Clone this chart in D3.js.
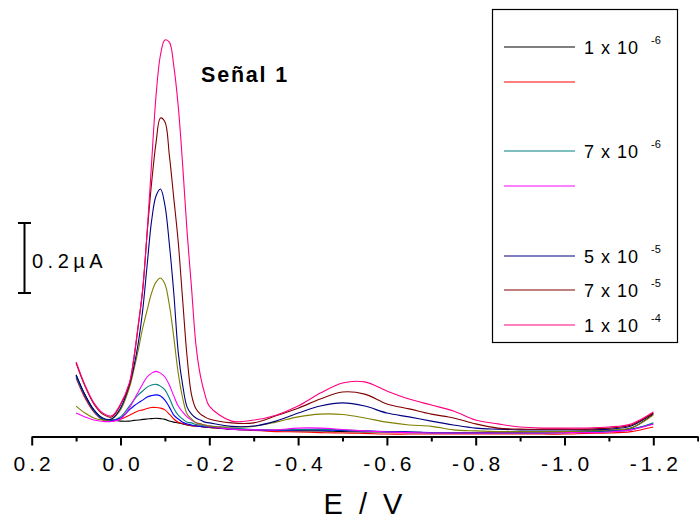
<!DOCTYPE html>
<html><head><meta charset="utf-8">
<script src="https://cdn.jsdelivr.net/npm/d3@7"></script>
<style>body{margin:0;background:#fff}svg{display:block}text{font-family:Arial,"Liberation Sans",sans-serif}</style>
</head><body><svg id="c" width="699" height="521"></svg>
<script>
// Potential (V)
const potential = [0.10,0.08,0.06,0.04,0.02,0.00,-0.02,-0.03,-0.04,-0.05,-0.06,-0.07,-0.08,-0.09,-0.10,-0.11,-0.12,-0.13,-0.14,-0.15,-0.16,-0.17,-0.18,-0.19,-0.20,
  -0.25,-0.30,-0.35,-0.40,-0.45,-0.50,-0.55,-0.60,-0.65,-0.70,-0.75,-0.80,-0.85,-0.90,-0.95,-1.00,-1.05,-1.10,-1.15,-1.20];
// Current (µA) per concentration
const cBlack = [0.186,0.129,0.086,0.061,0.057,0.054,0.054,0.056,0.057,0.059,0.060,0.061,0.062,0.061,0.059,0.054,0.051,0.049,0.046,0.043,0.041,0.040,0.039,0.037,0.036,
  0.031,0.029,0.027,0.026,0.026,0.024,0.023,0.023,0.023,0.021,0.021,0.021,0.021,0.021,0.021,0.023,0.023,0.026,0.034,0.074];
const cRed = [0.177,0.120,0.080,0.057,0.054,0.059,0.071,0.077,0.083,0.086,0.090,0.093,0.093,0.091,0.086,0.074,0.060,0.051,0.047,0.044,0.041,0.040,0.039,0.037,0.036,
  0.031,0.027,0.024,0.023,0.021,0.020,0.019,0.017,0.017,0.017,0.017,0.017,0.017,0.017,0.017,0.017,0.019,0.020,0.024,0.037];
const cBlue = [0.183,0.126,0.083,0.059,0.056,0.063,0.086,0.097,0.106,0.114,0.123,0.127,0.129,0.126,0.114,0.094,0.071,0.060,0.051,0.046,0.043,0.040,0.039,0.037,0.037,
  0.031,0.029,0.027,0.029,0.029,0.027,0.026,0.024,0.023,0.021,0.020,0.020,0.020,0.020,0.020,0.021,0.023,0.026,0.031,0.046];
const cTeal = [0.180,0.126,0.083,0.060,0.057,0.066,0.097,0.114,0.129,0.140,0.151,0.157,0.159,0.154,0.143,0.120,0.091,0.071,0.060,0.051,0.049,0.044,0.043,0.040,0.040,
  0.034,0.030,0.029,0.030,0.031,0.029,0.026,0.023,0.021,0.020,0.020,0.020,0.020,0.020,0.021,0.021,0.023,0.024,0.029,0.049];
const cMagenta = [0.077,0.066,0.057,0.053,0.053,0.060,0.091,0.114,0.137,0.160,0.180,0.191,0.196,0.191,0.180,0.157,0.126,0.097,0.080,0.066,0.057,0.049,0.046,0.043,0.040,
  0.031,0.029,0.029,0.034,0.034,0.030,0.026,0.023,0.021,0.020,0.020,0.020,0.020,0.020,0.020,0.021,0.021,0.023,0.029,0.046];
const cOlive = [0.097,0.077,0.063,0.057,0.060,0.086,0.149,0.200,0.257,0.320,0.371,0.420,0.451,0.463,0.446,0.386,0.294,0.191,0.120,0.074,0.060,0.049,0.046,0.043,0.040,
  0.037,0.039,0.051,0.066,0.074,0.073,0.063,0.051,0.043,0.039,0.029,0.026,0.024,0.024,0.024,0.024,0.026,0.029,0.034,0.071];
const cNavy = [0.186,0.129,0.086,0.063,0.060,0.091,0.157,0.209,0.277,0.371,0.500,0.626,0.697,0.717,0.671,0.560,0.420,0.251,0.157,0.094,0.074,0.063,0.057,0.051,0.049,
  0.039,0.040,0.054,0.077,0.097,0.106,0.097,0.077,0.066,0.054,0.043,0.034,0.031,0.029,0.029,0.029,0.029,0.031,0.040,0.077];
const cBrown = [0.220,0.154,0.103,0.074,0.066,0.100,0.160,0.231,0.326,0.429,0.591,0.734,0.849,0.920,0.909,0.814,0.691,0.566,0.400,0.237,0.129,0.089,0.074,0.066,0.060,
  0.049,0.049,0.069,0.091,0.117,0.137,0.131,0.103,0.089,0.074,0.063,0.046,0.034,0.031,0.031,0.031,0.031,0.034,0.043,0.077];
const cPink = [0.223,0.157,0.106,0.077,0.069,0.103,0.163,0.234,0.329,0.431,0.594,0.791,0.983,1.100,1.143,1.137,1.069,0.954,0.786,0.594,0.434,0.271,0.183,0.131,0.097,
  0.054,0.057,0.071,0.097,0.134,0.163,0.166,0.140,0.117,0.100,0.083,0.057,0.046,0.037,0.034,0.034,0.034,0.037,0.046,0.080];

const seriesValues = [cBlack, cRed, cBlue, cTeal, cMagenta, cOlive, cNavy, cBrown, cPink];
const seriesColors = ["#000000","#ff0000","#0000ff","#008080","#ff00ff","#808000","#000080","#800000","#ff0080"];
const legendBase = ["1 x 10", "", "", "7 x 10", "", "", "5 x 10", "7 x 10", "1 x 10"];
const legendExp  = ["-6", "", "", "-6", "", "", "-5", "-5", "-4"];
const legendShowLine = [true, true, false, true, true, false, true, true, true];

const xTickValues = [0.2, 0.0, -0.2, -0.4, -0.6, -0.8, -1.0, -1.2];
const xTickLabels = ["0.2", "0.0", "-0.2", "-0.4", "-0.6", "-0.8", "-1.0", "-1.2"];
const xMinorTicks = [0.1, -0.1, -0.3, -0.5, -0.7, -0.9, -1.1, -1.3];
const titleText = "Señal 1";
const xTitle = "E / V";
const scaleBarValue = 0.2;
const scaleBarLabel = "0.2µA";

const svg = d3.select("#c");
const x = d3.scaleLinear().domain([0.2, -1.3]).range([31.7, 697.7]);
const y = d3.scaleLinear().domain([0, 1.2]).range([440, 20]);

// curves
const line = d3.line().x((d, i) => x(potential[i])).y(d => y(d)).curve(d3.curveCatmullRom.alpha(0.5));
svg.append("g").selectAll("path").data(seriesValues).join("path")
  .attr("d", d => line(d)).attr("fill", "none")
  .attr("stroke", (d, i) => seriesColors[i]).attr("stroke-width", 1.1);

// x axis
const axisY = 436.5;
const gMinor = svg.append("g").attr("transform", `translate(0,${axisY})`)
  .call(d3.axisBottom(x).tickValues(xMinorTicks).tickSize(5).tickFormat(""));
const gMajor = svg.append("g").attr("transform", `translate(0,${axisY})`)
  .call(d3.axisBottom(x).tickValues(xTickValues).tickSize(9).tickSizeOuter(0)
    .tickFormat((d, i) => xTickLabels[i]));
[gMinor, gMajor].forEach(g => {
  g.select(".domain").attr("stroke", "#000").attr("stroke-width", 2);
  g.selectAll(".tick line").attr("stroke", "#000").attr("stroke-width", 2);
});
gMinor.select(".domain").remove();
gMajor.selectAll(".tick text")
  .attr("y", 20).attr("dy", "0.71em").attr("font-size", 21).attr("fill", "#000")
  .attr("font-family", "Arial, 'Liberation Sans', sans-serif")
  .style("letter-spacing", "4px").attr("dx", 2);

svg.append("text").attr("x", 365).attr("y", 514).attr("text-anchor", "middle")
  .attr("font-size", 29).style("letter-spacing", "4px").text(xTitle);

// title
svg.append("text").attr("x", 201).attr("y", 82).attr("font-size", 21.5)
  .attr("font-weight", "bold").style("letter-spacing", "1.8px").text(titleText);

// scale bar
const sbTop = 223;
const sbLen = y(0) - y(scaleBarValue);
const sb = svg.append("g").attr("stroke", "#000").attr("stroke-width", 2);
sb.append("line").attr("x1", 24.5).attr("x2", 24.5).attr("y1", sbTop).attr("y2", sbTop + sbLen);
sb.append("line").attr("x1", 18).attr("x2", 31).attr("y1", sbTop).attr("y2", sbTop);
sb.append("line").attr("x1", 18).attr("x2", 31).attr("y1", sbTop + sbLen).attr("y2", sbTop + sbLen);
svg.append("text").attr("x", 32).attr("y", 268).attr("font-size", 20)
  .style("letter-spacing", "4.5px").text(scaleBarLabel);

// legend
const lg = svg.append("g");
lg.append("rect").attr("x", 492.5).attr("y", 9.5).attr("width", 185).attr("height", 333)
  .attr("fill", "#fff").attr("stroke", "#000").attr("stroke-width", 1.2);
const slotY = i => Math.round(47 + i * 34.75);
seriesColors.forEach((c, i) => {
  if (legendShowLine[i]) {
    lg.append("line").attr("x1", 504).attr("x2", 575).attr("y1", slotY(i)).attr("y2", slotY(i))
      .attr("stroke", c).attr("stroke-width", 1.1);
  }
  if (legendBase[i]) {
    lg.append("text").attr("x", 584).attr("y", slotY(i) + 7).attr("font-size", 18)
      .style("letter-spacing", "1px").text(legendBase[i]);
    lg.append("text").attr("x", 651).attr("y", slotY(i) - 3).attr("font-size", 11)
      .text(legendExp[i]);
  }
});
</script>
</body></html>
